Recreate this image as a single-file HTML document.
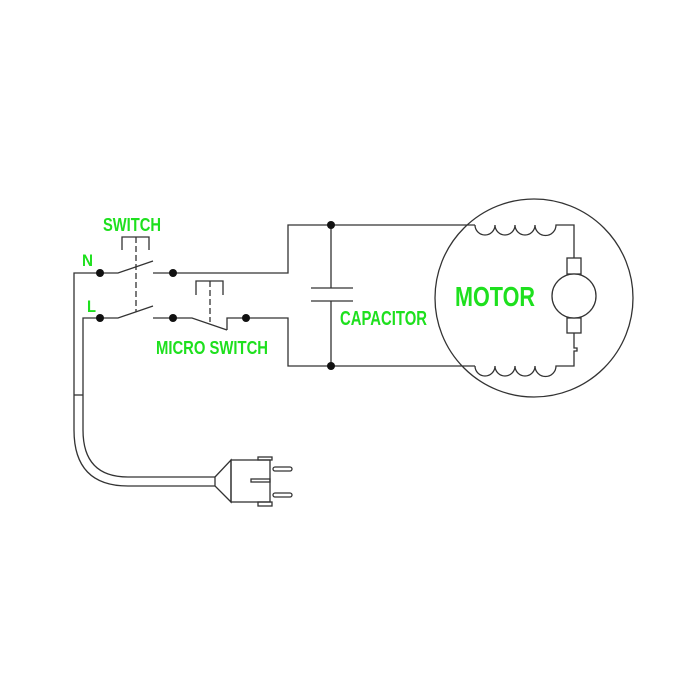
<!DOCTYPE html>
<html><head><meta charset="utf-8"><style>html,body{margin:0;padding:0;background:#fff}svg{display:block}</style></head>
<body>
<svg width="700" height="700" viewBox="0 0 700 700" xmlns="http://www.w3.org/2000/svg">
<g fill="none" stroke="#333" stroke-width="1.3">
<polyline points="74,395 74,273 118,273 153,261"/>
<polyline points="153,273 288,273 288,225 475,225"/>
<polyline points="83,395 83,318 118,318 153,306"/>
<polyline points="153,318 192,318 227,330"/>
<polyline points="227,330 227,318 288,318 288,366 475,366"/>
<polyline points="122,250 122,237 149,237 149,250"/>
<line x1="136" y1="237" x2="136" y2="312" stroke-dasharray="6,3"/>
<polyline points="196,295 196,281 223,281 223,295"/>
<line x1="210" y1="281" x2="210" y2="322" stroke-dasharray="6,3"/>
<line x1="331" y1="225" x2="331" y2="288"/>
<line x1="331" y1="301" x2="331" y2="366"/>
<line x1="311" y1="288" x2="353" y2="288"/>
<line x1="311" y1="301" x2="353" y2="301"/>
<circle cx="534" cy="298" r="99"/>
<path d="M475,225 a10,10 0 0 0 20,0 a10,10 0 0 0 20,0 a10,10 0 0 0 20,0 a10,10 0 0 0 21,0 L574,225 L574,258"/>
<path d="M475,366 a10,10 0 0 0 20,0 a10,10 0 0 0 20,0 a10,10 0 0 0 20,0 a10,10 0 0 0 21,0 L574,366 L574,351 L577,351 L577,348 L574,348 L574,333"/>
<rect x="567" y="258" width="14" height="16"/>
<rect x="567" y="318" width="14" height="15"/>
<circle cx="574" cy="296" r="22" fill="#fff"/>
<line x1="74" y1="395" x2="83" y2="395"/>
<path d="M74,395 L74,430 Q74,486 128,486 L215,486"/>
<path d="M83,395 L83,430 Q83,477 128,477 L215,477"/>
<polygon points="215,477 231,460 231,502 215,486"/>
<rect x="231" y="460" width="39" height="42"/>
<rect x="258" y="457" width="14" height="3"/>
<rect x="258" y="502" width="14" height="4"/>
<rect x="273" y="467" width="19" height="4" rx="2"/>
<rect x="251" y="479" width="19" height="3"/>
<rect x="273" y="493" width="19" height="4" rx="2"/>
</g>
<g fill="#111">
<circle cx="100" cy="273" r="4"/><circle cx="173" cy="273" r="4"/>
<circle cx="100" cy="318" r="4"/><circle cx="173" cy="318" r="4"/><circle cx="246" cy="318" r="4"/>
<circle cx="331" cy="225" r="4"/><circle cx="331" cy="366" r="4"/>
</g>
<g fill="#1ee01e" font-family="Liberation Sans, sans-serif" font-weight="bold">
<text x="103" y="231" font-size="18" textLength="58" lengthAdjust="spacingAndGlyphs">SWITCH</text>
<text x="82" y="266" font-size="17" textLength="11" lengthAdjust="spacingAndGlyphs">N</text>
<text x="87" y="312" font-size="17" textLength="9" lengthAdjust="spacingAndGlyphs">L</text>
<text x="156" y="354" font-size="18" textLength="112" lengthAdjust="spacingAndGlyphs">MICRO SWITCH</text>
<text x="340" y="325" font-size="20" textLength="87" lengthAdjust="spacingAndGlyphs">CAPACITOR</text>
<text x="455" y="306" font-size="28" textLength="80" lengthAdjust="spacingAndGlyphs">MOTOR</text>
</g>
</svg>
</body></html>
